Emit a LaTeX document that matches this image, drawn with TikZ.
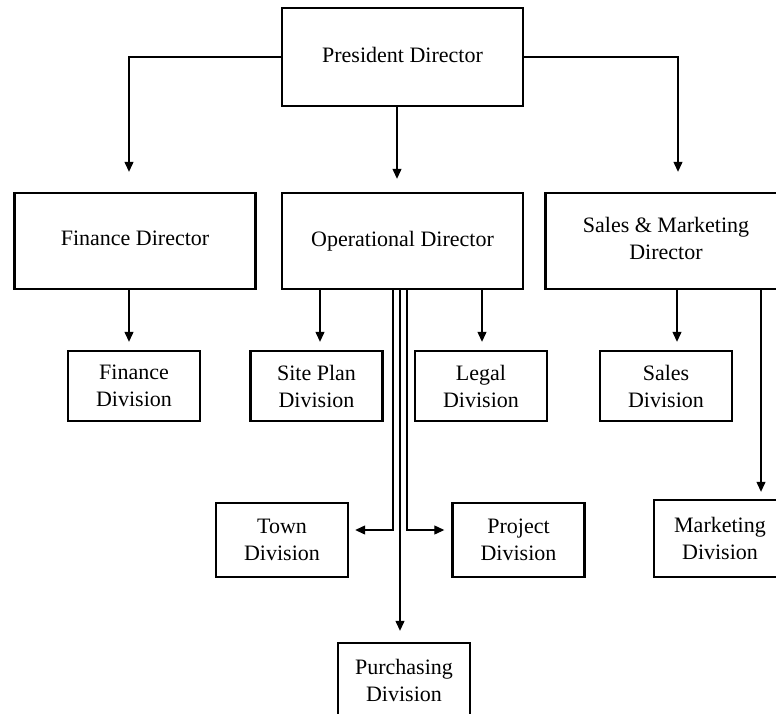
\documentclass[tikz,border=0pt]{standalone}
\usepackage{fontspec}
\setmainfont{Liberation Serif}
\usetikzlibrary{arrows.meta}
\usetikzlibrary{positioning}
\tikzset{director/.style = {draw, line width=2.4pt, rectangle, inner sep=0, minimum width=241pt, minimum height=96pt, align=center, font=\fontsize{22}{27}\selectfont}}
\tikzset{division/.style = {draw, line width=2.4pt, rectangle, inner sep=0, minimum width=132pt, minimum height=70pt, align=center, font=\fontsize{22}{27}\selectfont}}
\tikzset{link/.style = {line width=1.2pt, -{Triangle[length=10pt, width=9pt]}}}

\begin{document}
\begin{tikzpicture}[x=1pt, y=-1pt]
        \useasboundingbox (0,0) rectangle (776,713);
        \clip (0,0) rectangle (776,713);
        \node [director, minimum height=98pt] (pres) at (402.5,57) {\raisebox{5pt}{President Director}};
        \node [director] (fin) at (135,241) {\raisebox{5pt}{Finance Director}};
        \node [director] (op) at (402.5,241) {\raisebox{5pt}{Operational Director}};
        \node [director] (sal) at (666,241) {\raisebox{5pt}{\begin{tabular}{@{}c@{}}Sales \& Marketing\\Director\end{tabular}}};
        \node [division] (fdiv) at (134,386) {Finance\\Division};
        \node [division] (site) at (316.5,386) {Site Plan\\Division};
        \node [division] (legal) at (481,386) {Legal\\Division};
        \node [division] (sdiv) at (666,386) {Sales\\Division};
        \node [division, minimum height=74pt] (town) at (282,540) {Town\\Division};
        \node [division, minimum height=74pt] (proj) at (518.5,540) {Project\\Division};
        \node [division, minimum height=77pt] (mdiv) at (720,538.5) {Marketing\\Division};
        \node [division, minimum height=74pt] (pur) at (404,680) {Purchasing\\Division};
        \draw [link, shorten >=20pt] (pres.west) -| ([xshift=-6pt]fin.north);
        \draw [link, shorten >=13pt] ([xshift=-5.5pt]pres.south) -- ([xshift=-5.5pt]op.north);
        \draw [link, shorten >=20pt] (pres.east) -| ([xshift=12pt]sal.north);
        \draw [link, shorten >=8pt] ([xshift=-6pt]fin.south) -- ([xshift=-5pt]fdiv.north);
        \draw [link, shorten >=8pt] ([xshift=-82.5pt]op.south) -- ([xshift=3.5pt]site.north);
        \draw [link, shorten >=8pt] ([xshift=79.5pt]op.south) -- ([xshift=1pt]legal.north);
        \draw [link, shorten >=8pt] ([xshift=11pt]sal.south) -- ([xshift=11pt]sdiv.north);
        \draw [link, shorten >=7pt] ([xshift=95pt]sal.south) -- ([xshift=41pt]mdiv.north);
        \draw [link, shorten >=6pt] ([xshift=-9.5pt]op.south) |- ([yshift=10pt]town.east);
        \draw [link, shorten >=7pt] ([xshift=4.5pt]op.south) |- ([yshift=10pt]proj.west);
        \draw [link, shorten >=11pt] ([xshift=-2.5pt]op.south) -- ([xshift=-4pt]pur.north);
    \end{tikzpicture}
\end{document}
